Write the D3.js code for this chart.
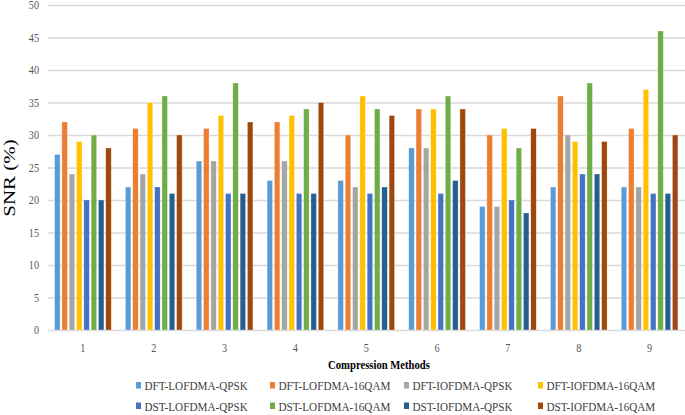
<!DOCTYPE html>
<html>
<head>
<meta charset="utf-8">
<script src="https://cdn.jsdelivr.net/npm/d3@7"></script>
<style>
  body { margin: 0; background: #fff; }
  svg { display: block; }
</style>
</head>
<body>
<svg id="chart" width="685" height="415"></svg>
<script>
const categories = ["1", "2", "3", "4", "5", "6", "7", "8", "9"];
const seriesNames = [
  "DFT-LOFDMA-QPSK", "DFT-LOFDMA-16QAM", "DFT-IOFDMA-QPSK", "DFT-IOFDMA-16QAM",
  "DST-LOFDMA-QPSK", "DST-LOFDMA-16QAM", "DST-IOFDMA-QPSK", "DST-IOFDMA-16QAM"
];
const dftLofdmaQpsk  = [27, 22, 26, 23, 23, 28, 19, 22, 22];
const dftLofdma16qam = [32, 31, 31, 32, 30, 34, 30, 36, 31];
const dftIofdmaQpsk  = [24, 24, 26, 26, 22, 28, 19, 30, 22];
const dftIofdma16qam = [29, 35, 33, 33, 36, 34, 31, 29, 37];
const dstLofdmaQpsk  = [20, 22, 21, 21, 21, 21, 20, 24, 21];
const dstLofdma16qam = [30, 36, 38, 34, 34, 36, 28, 38, 46];
const dstIofdmaQpsk  = [20, 21, 21, 21, 22, 23, 18, 24, 21];
const dstIofdma16qam = [28, 30, 32, 35, 33, 34, 31, 29, 30];
const yTicks = [0, 5, 10, 15, 20, 25, 30, 35, 40, 45, 50];
const colors = ["#5B9BD5", "#ED7D31", "#A5A5A5", "#FFC000", "#4472C4", "#70AD47", "#255E91", "#9E480E"];

const seriesValues = [dftLofdmaQpsk, dftLofdma16qam, dftIofdmaQpsk, dftIofdma16qam,
                      dstLofdmaQpsk, dstLofdma16qam, dstIofdmaQpsk, dstIofdma16qam];

const svg = d3.select("#chart");
svg.append("rect").attr("width", 685).attr("height", 415).attr("fill", "#fff");

const plotLeft = 47.5, plotRight = 685, plotTop = 5, plotBottom = 330;
const serif = "'Liberation Serif', 'Times New Roman', serif";

const y = d3.scaleLinear().domain([0, 50]).range([plotBottom, plotTop]);
const x0 = d3.scaleBand().domain(categories).range([plotLeft, plotRight]).paddingInner(0.2).paddingOuter(0.1);
const x1 = d3.scaleBand().domain(seriesNames).range([0, x0.bandwidth()]).paddingInner(0.25).paddingOuter(0);
const color = d3.scaleOrdinal().domain(seriesNames).range(colors);

// Y axis with gridlines
const sxTick = 0.85;
const yAxis = svg.append("g")
  .attr("transform", `translate(${plotLeft},0)`)
  .call(d3.axisLeft(y).tickValues(yTicks).tickSize(-(700 - plotLeft)).tickPadding(8));
yAxis.select(".domain").remove();
yAxis.selectAll(".tick line").attr("stroke", "#d9d9d9").attr("stroke-width", 1.3);
yAxis.selectAll(".tick text")
  .attr("x", -8.5 / sxTick)
  .attr("transform", `scale(${sxTick},1)`)
  .attr("font-family", serif).attr("font-size", 12).attr("fill", "#595959");

// Bars
const groups = svg.append("g").selectAll("g")
  .data(categories)
  .join("g")
  .attr("transform", d => `translate(${x0(d)},0)`);

groups.selectAll("rect")
  .data((d, i) => seriesNames.map((s, k) => ({ s, v: seriesValues[k][i] })))
  .join("rect")
  .attr("x", d => x1(d.s))
  .attr("width", x1.bandwidth())
  .attr("y", d => y(d.v))
  .attr("height", d => y(0) - y(d.v))
  .attr("fill", d => color(d.s))
  .attr("stroke", "#ffffff")
  .attr("stroke-opacity", 0.6)
  .attr("stroke-width", 0.5);

// X axis labels
const xAxis = svg.append("g")
  .attr("transform", `translate(0,${plotBottom})`)
  .call(d3.axisBottom(x0).tickSize(0));
xAxis.select(".domain").remove();
xAxis.selectAll(".tick text")
  .attr("y", 22).attr("dy", 0)
  .attr("transform", `scale(${sxTick},1)`)
  .attr("font-family", serif).attr("font-size", 12).attr("fill", "#595959");

// X title
svg.append("text")
  .attr("transform", "translate(379,368.5) scale(0.82,1)")
  .attr("text-anchor", "middle")
  .attr("font-family", serif).attr("font-size", 13).attr("font-weight", "bold")
  .attr("fill", "#000")
  .text("Compression Methods");

// Y title
svg.append("text")
  .attr("transform", "translate(14.5,178) scale(0.77,1) rotate(-90)")
  .attr("text-anchor", "middle")
  .attr("font-family", serif).attr("font-size", 21)
  .attr("fill", "#000")
  .text("SNR (%)");

// Legend
const legX = d3.scaleLinear().domain([0, 3]).range([136, 538]);
const legend = svg.append("g");
seriesNames.forEach((s, i) => {
  const col = i % 4, row = Math.floor(i / 4);
  const lx = legX(col);
  const ly = row === 0 ? 390 : 410.5;
  legend.append("rect")
    .attr("x", lx).attr("y", ly - 8)
    .attr("width", 5).attr("height", 6.5)
    .attr("fill", color(s));
  legend.append("text")
    .attr("transform", `translate(${lx + 8.5},${ly}) scale(0.86,1)`)
    .attr("font-family", serif).attr("font-size", 13)
    .attr("fill", "#404040")
    .text(s);
});
</script>
</body>
</html>
